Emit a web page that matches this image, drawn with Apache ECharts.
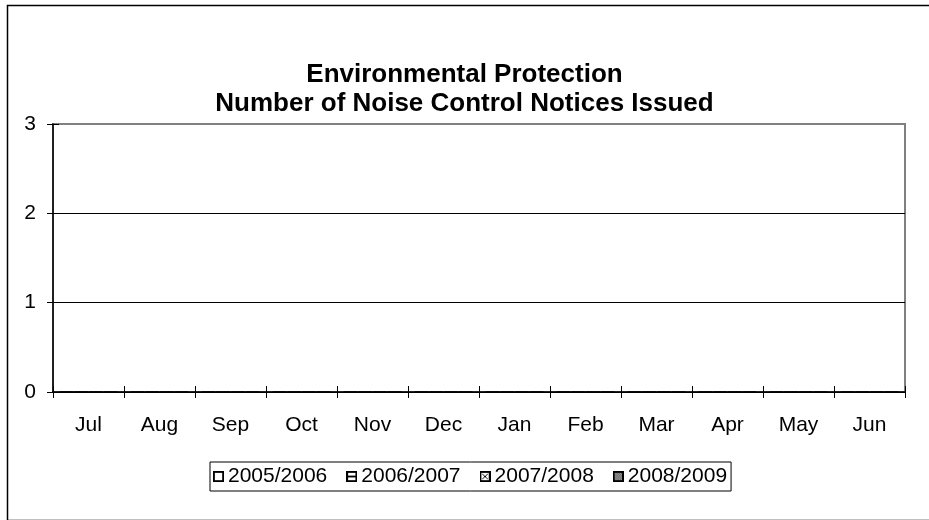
<!DOCTYPE html>
<html>
<head>
<meta charset="utf-8">
<script src="https://cdn.jsdelivr.net/npm/echarts@6/dist/echarts.min.js"></script>
<style>
html,body{margin:0;padding:0;background:#fff;}
#chart{width:929px;height:520px;}
</style>
</head>
<body>
<div id="chart"></div>
<script>
// Monthly categories for the financial year
var months = ['Jul', 'Aug', 'Sep', 'Oct', 'Nov', 'Dec', 'Jan', 'Feb', 'Mar', 'Apr', 'May', 'Jun'];
var seriesNames = ['2005/2006', '2006/2007', '2007/2008', '2008/2009'];
// Notices issued per month, one list per year
var notices2005 = [0, 0, 0, 0, 0, 0, 0, 0, 0, 0, 0, 0];
var notices2006 = [0, 0, 0, 0, 0, 0, 0, 0, 0, 0, 0, 0];
var notices2007 = [0, 0, 0, 0, 0, 0, 0, 0, 0, 0, 0, 0];
var notices2008 = [0, 0, 0, 0, 0, 0, 0, 0, 0, 0, 0, 0];
var yTicks = [0, 1, 2, 3];

// Small patterned swatches for the legend
function swatch(kind) {
  var c = document.createElement('canvas');
  c.width = 12; c.height = 12;
  var g = c.getContext('2d');
  g.fillStyle = '#fff'; g.fillRect(0, 0, 12, 12);
  if (kind === 3) {
    for (var y = 2; y < 10; y++) for (var x = 2; x < 10; x++) {
      g.fillStyle = ((x + y) % 2) ? '#444' : '#bbb';
      g.fillRect(x, y, 1, 1);
    }
  }
  g.fillStyle = '#000';
  if (kind === 1) { g.fillRect(2, 5, 8, 2); }
  if (kind === 2) {
    for (var i = 3; i < 9; i++) { g.fillRect(i, i, 1, 1); g.fillRect(11 - i, i, 1, 1); }
  }
  g.strokeStyle = '#000'; g.lineWidth = 2;
  g.strokeRect(1, 1, 10, 10);
  return 'image://' + c.toDataURL();
}

var seriesData = [notices2005, notices2006, notices2007, notices2008];
var fills = ['#ffffff', '#ffffff', '#ffffff', '#888888'];
var series = seriesNames.map(function (n, i) {
  return {
    name: n, type: 'bar', data: seriesData[i],
    xAxisIndex: 0, yAxisIndex: 0,
    itemStyle: { color: fills[i], borderColor: '#000', borderWidth: 1 }
  };
});

var font = 'Liberation Sans, Arial, sans-serif';
var chart = echarts.init(document.getElementById('chart'), null, { renderer: 'canvas' });
chart.setOption({
  animation: false,
  backgroundColor: '#fff',
  title: {
    text: 'Environmental Protection\nNumber of Noise Control Notices Issued',
    left: 'center', top: 55,
    textStyle: { fontFamily: font, fontSize: 26, fontWeight: 'bold', color: '#000', lineHeight: 29 }
  },
  legend: {
    bottom: 29, left: 210,
    data: seriesNames.map(function (n, i) { return { name: n, icon: swatch(i) }; }),
    itemWidth: 11, itemHeight: 11, itemGap: 19,
    padding: [4, 4, 4, 3],
    borderColor: '#000', borderWidth: 1,
    textStyle: { fontFamily: font, fontSize: 21, color: '#000', padding: [0, 0, 0, -1] }
  },
  grid: {
    left: 53, right: 24, top: 124, bottom: 128,
    show: true, borderColor: '#808080', borderWidth: 2
  },
  xAxis: [{
    type: 'category', data: months, boundaryGap: true,
    axisLine: { lineStyle: { color: '#000', width: 1.5 } },
    axisTick: { show: true, length: 6, lineStyle: { color: '#000' } },
    axisLabel: { color: '#000', fontFamily: font, fontSize: 21, margin: 23 }
  }, {
    type: 'category', data: months, boundaryGap: true, position: 'bottom',
    axisLine: { show: false },
    axisTick: { show: true, inside: true, length: 6, lineStyle: { color: '#000' } },
    axisLabel: { show: false }
  }],
  yAxis: [{
    type: 'value', min: yTicks[0], max: yTicks[yTicks.length - 1], interval: 1,
    axisLine: { show: true, lineStyle: { color: '#000', width: 1.5 } },
    axisTick: { show: true, length: 6, lineStyle: { color: '#000' } },
    axisLabel: { color: '#000', fontFamily: font, fontSize: 21, margin: 17 },
    splitLine: { show: true, lineStyle: { color: ['#000', '#000', '#000', '#808080'], width: 1 } }
  }, {
    type: 'value', min: yTicks[0], max: yTicks[yTicks.length - 1], interval: 1, position: 'left',
    axisLine: { show: false },
    axisTick: { show: true, inside: true, length: 6, lineStyle: { color: '#000' } },
    axisLabel: { show: false },
    splitLine: { show: false }
  }],
  series: series,
  graphic: [{
    type: 'rect', left: 5, top: 3, silent: true, z: -1,
    shape: { width: 940, height: 515 },
    style: { fill: 'none', stroke: '#000', lineWidth: 1.5 }
  }]
});
</script>
</body>
</html>
